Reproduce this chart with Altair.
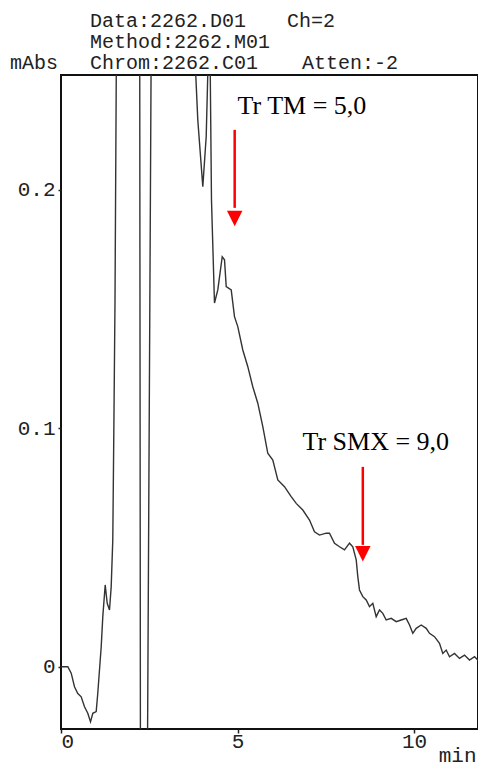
import altair as alt
import pandas as pd

# ---- chromatogram trace (time in min, signal in mAbs) ----
time_min = [
    0.006, 0.193, 0.289, 0.382, 0.476, 0.572, 0.666, 0.759, 0.836, 0.901,
    0.997, 1.042, 1.139, 1.184, 1.252, 1.309, 1.374, 1.422, 1.467, 1.496,
    1.530, 1.570,
    2.230, 2.250, 2.450, 2.555,
    3.782, 3.875, 4.017, 4.113, 4.178, 4.221, 4.263, 4.348, 4.442, 4.567,
    4.632, 4.680, 4.822, 4.915, 5.008, 5.150, 5.292, 5.433, 5.575, 5.717,
    5.858, 6.000, 6.142, 6.331, 6.521, 6.663, 6.850, 7.040, 7.181, 7.323,
    7.513, 7.606, 7.748, 7.890, 8.031, 8.173, 8.266, 8.363, 8.408, 8.456,
    8.550, 8.646, 8.739, 8.833, 8.929, 9.023, 9.116, 9.212, 9.354, 9.496,
    9.637, 9.779, 9.873, 9.966, 10.062, 10.204, 10.346, 10.439, 10.581, 10.722,
    10.816, 10.912, 11.006, 11.147, 11.289, 11.431, 11.572, 11.714, 11.856, 11.949,
    11.997,
]
signal = [
    0.0001, 0.0001, -0.0026, -0.0083, -0.0111, -0.0125, -0.0167, -0.0194, -0.0230, -0.0194,
    -0.0187, -0.0110, 0.0085, 0.0211, 0.0344, 0.0267, 0.0239, 0.0337, 0.0532, 0.0981,
    0.1539, 0.2600,
    0.2600, -0.0350, -0.0350, 0.2600,
    0.2600, 0.2294, 0.2014, 0.2223, 0.2600, 0.2600, 0.1958, 0.1526, 0.1581, 0.1720,
    0.1707, 0.1595, 0.1581, 0.1469, 0.1427, 0.1329, 0.1259, 0.1175, 0.1106, 0.1008,
    0.0896, 0.0868, 0.0784, 0.0756, 0.0714, 0.0686, 0.0658, 0.0616, 0.0567, 0.0553,
    0.0561, 0.0561, 0.0519, 0.0504, 0.0491, 0.0519, 0.0504, 0.0449, 0.0379, 0.0323,
    0.0295, 0.0281, 0.0253, 0.0267, 0.0211, 0.0239, 0.0225, 0.0197, 0.0204, 0.0190,
    0.0197, 0.0204, 0.0176, 0.0141, 0.0162, 0.0176, 0.0162, 0.0141, 0.0127, 0.0099,
    0.0057, 0.0071, 0.0043, 0.0057, 0.0036, 0.0050, 0.0029, 0.0043, 0.0022, 0.0016,
    0.0008,
]

# ---- annotations ----
ann_text = ["Tr TM = 5,0", "Tr SMX = 9,0"]
ann_t = [5.0, 6.84]
ann_a = [0.2352, 0.0943]

arrow_t = [4.92, 8.55]
arrow_top = [0.2252, 0.0839]
arrow_base = [0.1925, 0.0512]
arrow_head = [0.1880, 0.0475]

x_ticks = [0, 5, 10]
y_ticks = [0, 0.1, 0.2]

header = [
    ("Data:2262.D01", 29, -54),
    ("Ch=2", 226, -54),
    ("Method:2262.M01", 29, -33),
    ("mAbs", -51, -12),
    ("Chrom:2262.C01", 29, -12),
    ("Atten:-2", 241, -12),
]

MONO = "Liberation Mono"
SERIF = "Liberation Serif"
INK = "#222"

trace = pd.DataFrame({"t": time_min, "a": signal, "i": list(range(len(time_min)))})
ann = pd.DataFrame({"t": ann_t, "a": ann_a, "label": ann_text})
arrows = pd.DataFrame({"t": arrow_t, "a1": arrow_top, "a2": arrow_base, "h": arrow_head})

x_scale = alt.Scale(domain=[0, 11.813], nice=False, zero=False)
y_scale = alt.Scale(domain=[-0.026, 0.2482], nice=False, zero=False)

x_axis = alt.Axis(
    values=x_ticks, grid=False, domain=False,
    labelFont=MONO, labelFontSize=21, labelColor=INK, labelFlush=True,
    labelPadding=-3, tickSize=4, tickColor=INK, tickWidth=1.5,
    title="min", titleFont=MONO, titleFontSize=21, titleFontWeight="normal",
    titleColor=INK, titleX=415, titleY=32, titleAlign="right",
    titleBaseline="alphabetic",
)
y_axis = alt.Axis(
    values=y_ticks, grid=False, domain=False,
    labelExpr="datum.value == 0 ? '0' : format(datum.value, '.1f')",
    labelFont=MONO, labelFontSize=21, labelColor=INK, labelPadding=3,
    tickSize=3, tickColor=INK, tickWidth=1.5, title=None,
)

line = alt.Chart(trace).mark_line(color="#333", strokeWidth=1.4, clip=True).encode(
    x=alt.X("t:Q", scale=x_scale, axis=x_axis),
    y=alt.Y("a:Q", scale=y_scale, axis=y_axis),
    order="i:Q",
)

arrow_lines = alt.Chart(arrows).mark_rule(color="#ff0000", strokeWidth=2.5).encode(
    x=alt.X("t:Q", scale=x_scale),
    y=alt.Y("a1:Q", scale=y_scale),
    y2="a2:Q",
)
arrow_heads = alt.Chart(arrows).mark_point(
    shape="M-1,-1L1,-1L0,1Z", filled=True, color="#ff0000", opacity=1, size=240, strokeWidth=0
).encode(
    x=alt.X("t:Q", scale=x_scale),
    y=alt.Y("h:Q", scale=y_scale),
)
ann_labels = alt.Chart(ann).mark_text(
    font=SERIF, fontSize=26, color="#000", align="left", baseline="middle"
).encode(
    x=alt.X("t:Q", scale=x_scale),
    y=alt.Y("a:Q", scale=y_scale),
    text="label:N",
)


def hdr(text, x, y):
    return alt.Chart(alt.Data(values=[{}])).mark_text(
        text=text, font=MONO, fontSize=20, color=INK, align="left", baseline="middle"
    ).encode(x=alt.value(x), y=alt.value(y))


layers = [line, arrow_lines, arrow_heads, ann_labels] + [hdr(*h) for h in header]

chart = alt.layer(*layers).properties(
    width=417,
    height=654,
    padding={"left": 53, "top": 67, "right": 0, "bottom": 38},
    autosize="none",
    background="white",
).configure_view(stroke="#111", strokeWidth=2)

chart.save("out.html", embed_options={"renderer": "svg", "actions": False})
